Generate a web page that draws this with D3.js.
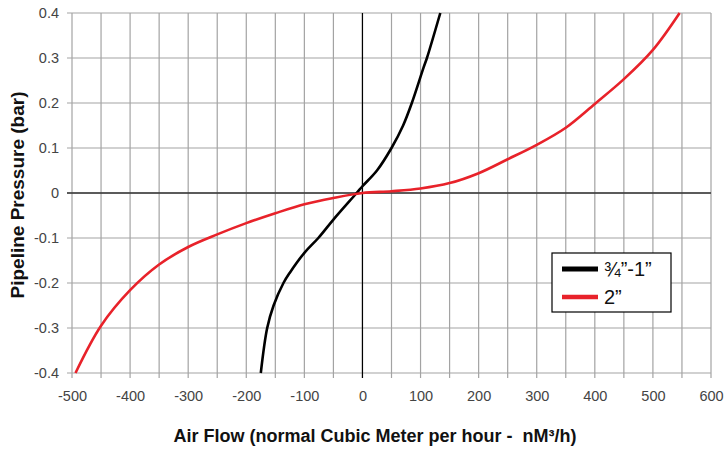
<!DOCTYPE html>
<html>
<head>
<meta charset="utf-8">
<script src="https://cdn.jsdelivr.net/npm/d3@7"></script>
<style>
  body { margin: 0; background: #fff; }
  svg { font-family: Arial, "Liberation Sans", sans-serif; }
  .tick text { fill: #444; font-size: 14.5px; }
</style>
</head>
<body>
<div id="chart"></div>
<script>
// data
const flowSmall = [-175, -164, -153, -136, -125, -100, -76, -50, -10, 0, 25, 50, 70, 85, 105, 111, 134];
const pressSmall = [-0.4, -0.3, -0.25, -0.2, -0.177, -0.133, -0.1, -0.059, 0, 0.015, 0.05, 0.1, 0.15, 0.2, 0.278, 0.3, 0.4];
const flowLarge = [-494, -450, -400, -350, -300, -250, -200, -150, -100, -50, 0, 50, 100, 150, 200, 250, 300, 350, 400, 450, 500, 546];
const pressLarge = [-0.4, -0.295, -0.216, -0.159, -0.12, -0.092, -0.067, -0.045, -0.025, -0.011, 0, 0.004, 0.01, 0.022, 0.044, 0.075, 0.107, 0.145, 0.198, 0.253, 0.318, 0.4];
const seriesNames = ['\u00BE\u201D-1\u201D', '2\u201D'];
const seriesColors = ['#000000', '#e8222a'];
const xTicks = [-500, -400, -300, -200, -100, 0, 100, 200, 300, 400, 500, 600];
const yTicks = [-0.4, -0.3, -0.2, -0.1, 0, 0.1, 0.2, 0.3, 0.4];

let w = 724;
let h = 450;
let padL = 72, padR = 711, padT = 13, padB = 373;

let svg = d3.select('#chart')
  .append('svg')
  .attr('width', w)
  .attr('height', h);

let x = d3.scaleLinear().domain([-500, 600]).range([padL, padR]);
let y = d3.scaleLinear().domain([-0.4, 0.4]).range([padB, padT]);

// plain hyphen for negatives, like the original
const hyph = s => s.replace('\u2212', '-');

// grid, every 50 on x and 0.1 on y
let xGrid = d3.range(-500, 601, 50);
svg.append('g')
  .selectAll('line')
  .data(xGrid)
  .enter()
  .append('line')
  .attr('x1', d => x(d)).attr('x2', d => x(d))
  .attr('y1', padT).attr('y2', padB + 5)
  .attr('stroke', '#a3a3a3')
  .attr('stroke-width', 1.2);

svg.append('g')
  .selectAll('line')
  .data(yTicks)
  .enter()
  .append('line')
  .attr('x1', padL - 5).attr('x2', padR)
  .attr('y1', d => y(d)).attr('y2', d => y(d))
  .attr('stroke', '#a3a3a3')
  .attr('stroke-width', 1.2);

// axes (labels only, the grid draws the lines)
const xAxis = d3.axisBottom(x).tickValues(xTicks).tickSize(0).tickPadding(18)
  .tickFormat(d => hyph(d3.format('d')(d)));
svg.append('g')
  .attr('transform', 'translate(0,' + padB + ')')
  .call(xAxis)
  .call(g => g.select('.domain').remove());

const yAxis = d3.axisLeft(y).tickValues(yTicks).tickSize(0).tickPadding(13)
  .tickFormat(d => d === 0 ? '0' : hyph(d3.format('.1f')(d)));
svg.append('g')
  .attr('transform', 'translate(' + padL + ',0)')
  .call(yAxis)
  .call(g => g.select('.domain').remove());

// zero lines
svg.append('line')
  .attr('x1', padL - 5).attr('x2', padR)
  .attr('y1', y(0)).attr('y2', y(0))
  .attr('stroke', '#333').attr('stroke-width', 1.6);
svg.append('line')
  .attr('x1', x(0)).attr('x2', x(0))
  .attr('y1', padT).attr('y2', padB + 5)
  .attr('stroke', '#000').attr('stroke-width', 1.2);

// curves
let line = d3.line()
  .x(d => x(d[0]))
  .y(d => y(d[1]))
  .curve(d3.curveCatmullRom.alpha(0.5));

let series = [
  d3.zip(flowSmall, pressSmall),
  d3.zip(flowLarge, pressLarge)
];

svg.append('g')
  .selectAll('path')
  .data(series)
  .enter()
  .append('path')
  .attr('d', d => line(d))
  .attr('fill', 'none')
  .attr('stroke', (d, i) => seriesColors[i])
  .attr('stroke-width', 2.6);

// legend
let lg = svg.append('g').attr('transform', 'translate(552,253)');
lg.append('rect')
  .attr('width', 119).attr('height', 59)
  .attr('fill', '#fff')
  .attr('stroke', '#000')
  .attr('stroke-width', 1.2);
seriesNames.forEach((name, i) => {
  lg.append('line')
    .attr('x1', 10).attr('x2', 46)
    .attr('y1', 16 + i * 28).attr('y2', 16 + i * 28)
    .attr('stroke', seriesColors[i])
    .attr('stroke-width', i === 0 ? 5 : 4.5);
  lg.append('text')
    .attr('x', 52).attr('y', 23 + i * 28)
    .attr('font-size', 20)
    .attr('fill', '#111')
    .text(name);
});

// titles
svg.append('text')
  .attr('x', 375).attr('y', 442)
  .attr('text-anchor', 'middle')
  .attr('font-size', 18)
  .attr('font-weight', 'bold')
  .attr('fill', '#111')
  .style('white-space', 'pre')
  .text('Air Flow (normal Cubic Meter per hour -  nM\u00B3/h)');

svg.append('text')
  .attr('transform', 'translate(24,195) rotate(-90)')
  .attr('text-anchor', 'middle')
  .attr('font-size', 19)
  .attr('font-weight', 'bold')
  .attr('fill', '#111')
  .text('Pipeline Pressure (bar)');
</script>
</body>
</html>
